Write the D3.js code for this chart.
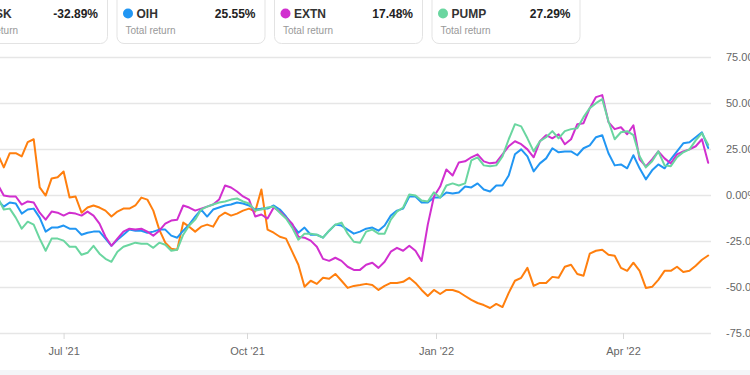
<!DOCTYPE html>
<html>
<head>
<meta charset="utf-8">
<script src="https://cdn.jsdelivr.net/npm/d3@7"></script>
<style>
	html, body { margin: 0; padding: 0; background: #fff; overflow: hidden; }
	svg { display: block; font-family: "Liberation Sans", Arial, sans-serif; }
</style>
</head>
<body>
<div id="chart"></div>
<script>
// sampling grid: every 3 days from 29 May 2021
var START = new Date(Date.UTC(2021, 4, 29));
var STEP_DAYS = 3;

var tickers = ["TUSK", "OIH", "EXTN", "PUMP"];
var totals = [-32.89, 25.55, 17.48, 27.29];
var colors = ["#ff7f0e", "#2196f3", "#d12fcf", "#6ad6a0"];

var yTicks = [75, 50, 25, 0, -25, -50, -75];
var xTickDates = ["2021-07-01", "2021-10-01", "2022-01-01", "2022-04-01"];

// total return, %
var tusk = [22.1,15.0,22.7,22.7,21.0,28.7,30.3,4.1,-0.3,9.0,9.6,12.8,-1.4,-0.8,-9.6,-6.8,-5.7,-6.8,-8.5,-11.7,
	-9.0,-7.4,-7.4,-5.7,-1.4,-2.5,-8.5,-18.8,-25.9,-29.2,-29.7,-15.0,-17.2,-19.9,-17.2,-16.1,-17.2,-11.7,-9.6,-11.2,
	-10.1,-8.5,-7.4,-9.0,3.0,-18.8,-20.5,-22.7,-23.7,-30.8,-37.9,-49.9,-46.6,-48.3,-45.0,-45.5,-42.9,-46.6,-50.5,-49.4,
	-48.9,-48.3,-48.9,-51.6,-49.4,-47.8,-47.8,-47.2,-45.0,-47.8,-51.6,-54.9,-51.6,-53.8,-51.6,-51.6,-52.7,-54.9,-57.0,-58.7,
	-59.8,-61.4,-59.2,-60.9,-53.2,-46.6,-45.0,-39.6,-49.4,-47.8,-47.8,-44.5,-45.0,-39.0,-37.9,-42.9,-43.9,-31.9,-30.3,-29.7,
	-32.5,-33.0,-39.6,-41.2,-36.8,-41.2,-50.5,-49.9,-46.1,-41.2,-41.2,-39.0,-41.8,-41.2,-38.4,-35.2,-32.89];
var oih = [-3.0,-6.3,-4.1,-4.6,-10.1,-7.9,-7.4,-12.3,-19.9,-17.7,-17.7,-16.6,-18.3,-18.3,-21.6,-20.5,-19.9,-19.9,-23.7,-27.6,
	-24.3,-21.6,-18.8,-19.4,-19.4,-20.5,-19.9,-18.8,-18.8,-22.1,-23.2,-19.4,-16.1,-11.7,-7.9,-11.7,-7.9,-6.8,-5.7,-5.2,
	-4.1,-4.6,-5.7,-7.9,-7.4,-7.4,-5.7,-7.9,-11.7,-16.1,-20.5,-17.7,-21.6,-21.6,-23.2,-19.4,-16.1,-16.6,-18.8,-21.0,
	-19.9,-18.3,-17.7,-19.4,-16.6,-11.2,-8.5,-7.4,-0.8,-0.8,-4.1,-4.1,-1.4,-1.4,1.4,0.8,1.4,4.6,4.1,6.3,
	3.0,1.9,5.2,5.2,10.6,22.1,24.8,21.0,12.8,17.2,19.9,25.4,23.2,23.7,23.7,21.6,25.4,27.0,31.4,32.5,
	22.7,16.1,16.6,14.5,21.6,14.5,8.5,13.4,16.6,14.5,19.4,23.7,28.1,28.7,31.4,34.1,25.55];
var extn = [5.7,-0.3,-0.8,-0.8,-5.2,-3.5,-4.1,-9.6,-13.4,-9.0,-9.6,-11.2,-9.6,-10.1,-11.2,-9.0,-11.2,-15.6,-22.7,-27.6,
	-23.7,-19.9,-18.3,-18.8,-18.3,-19.9,-22.1,-19.4,-15.6,-13.9,-13.4,-5.7,-6.8,-8.5,-7.4,-6.3,-5.2,-2.5,5.2,4.1,
	1.9,-0.8,-2.5,-11.7,-10.6,-12.8,-6.8,-9.0,-12.3,-15.6,-22.7,-23.2,-24.8,-28.1,-34.7,-35.8,-34.1,-35.8,-39.0,-40.7,
	-40.7,-37.9,-36.8,-39.6,-36.3,-30.8,-28.7,-30.3,-27.6,-30.3,-35.8,-16.1,-0.8,4.6,13.9,10.6,17.7,18.3,20.5,22.1,
	18.3,17.2,17.7,22.1,26.5,29.2,27.6,24.8,20.5,29.2,32.5,30.8,33.0,27.6,30.3,38.5,39.0,47.2,53.2,54.3,
	39.6,35.8,36.8,33.0,37.9,19.4,15.6,19.4,23.7,19.9,17.2,22.1,23.7,24.8,26.5,30.3,17.48];
var pump = [-1.4,-7.9,-7.4,-12.3,-18.3,-14.5,-16.1,-23.7,-30.3,-23.7,-23.7,-24.8,-28.1,-28.1,-32.5,-31.4,-27.6,-31.9,-34.7,-36.3,
	-30.8,-28.1,-27.0,-25.9,-26.5,-26.5,-28.7,-25.9,-27.0,-30.3,-29.7,-21.6,-16.6,-13.4,-7.9,-6.3,-5.2,-4.1,-3.5,-2.5,
	-1.9,-3.5,-4.6,-8.5,-7.9,-6.8,-6.3,-9.6,-12.8,-17.7,-24.3,-21.0,-21.0,-21.6,-23.2,-19.4,-16.1,-15.0,-21.0,-25.4,
	-25.9,-19.9,-18.8,-21.0,-21.0,-13.4,-9.0,-6.8,0.3,-0.3,-3.0,-3.5,1.4,-1.4,5.2,6.3,5.2,6.3,18.8,20.5,
	16.1,15.6,16.1,21.0,30.3,38.5,37.3,30.8,23.7,29.2,31.4,34.7,30.8,34.7,35.8,36.3,42.3,47.2,49.9,52.1,
	40.1,30.3,34.1,34.7,32.5,21.0,15.0,18.3,23.7,16.1,15.6,20.5,23.2,24.8,29.7,33.6,27.29];

var W = 750, H = 375;
var seriesValues = [tusk, oih, extn, pump];
var dates = tusk.map((v, i) => d3.utcDay.offset(START, i*STEP_DAYS));

var svg = d3.select("#chart").append("svg")
	.attr("width", W)
	.attr("height", H);

// trading-day axis: quarters are not evenly spaced on screen
var x = d3.scaleUtc()
	.domain(xTickDates.map(s => new Date(s + "T00:00:00Z")))
	.range([63.6, 247, 436, 623]);
var y = d3.scaleLinear()
	.domain([-75, 75])
	.range([333, 57]);

svg.append("rect")
	.attr("x", 0).attr("y", 370)
	.attr("width", W).attr("height", 5)
	.attr("fill", "#f4f5f8");

// grid + labels on the right
var yAxis = svg.append("g")
	.call(d3.axisRight(y)
		.tickValues(yTicks)
		.tickSize(711)
		.tickPadding(15)
		.tickFormat(d => d.toFixed(2) + "%"));
yAxis.select(".domain").remove();
yAxis.selectAll("line").attr("stroke", "#e6e6e6").attr("stroke-width", 1.5);
yAxis.selectAll("text")
	.attr("fill", "#666")
	.attr("font-size", 11)
	.attr("font-family", "Liberation Sans, Arial, sans-serif");

var xAxis = svg.append("g")
	.attr("transform", "translate(0," + y(-75) + ")")
	.call(d3.axisBottom(x)
		.tickValues(xTickDates.map(s => new Date(s + "T00:00:00Z")))
		.tickSize(6)
		.tickPadding(8)
		.tickFormat(d3.utcFormat("%b '%y")));
xAxis.select(".domain").remove();
xAxis.selectAll("line").attr("stroke", "#d8d8d8");
xAxis.selectAll("text")
	.attr("fill", "#666")
	.attr("font-size", 11)
	.attr("font-family", "Liberation Sans, Arial, sans-serif");

var line = d3.line()
	.x((d, i) => x(dates[i]))
	.y(d => y(d));

svg.append("g").selectAll("path")
	.data(seriesValues)
	.enter()
	.append("path")
	.attr("d", line)
	.attr("fill", "none")
	.attr("stroke", (d, i) => colors[i])
	.attr("stroke-width", 2)
	.attr("stroke-linejoin", "round")
	.attr("stroke-linecap", "round");

// legend cards along the top
var CARD_W = 148, CARD_H = 53, CARD_X0 = -41, CARD_GAP = 157.5;
var cards = svg.append("g").selectAll("g")
	.data(tickers)
	.enter()
	.append("g")
	.attr("transform", (d, i) => "translate(" + (CARD_X0 + i*CARD_GAP) + ",-10)");

cards.append("rect")
	.attr("x", 0.5).attr("y", 0.5)
	.attr("width", CARD_W).attr("height", CARD_H)
	.attr("rx", 7)
	.attr("fill", "#fff")
	.attr("stroke", "#e3e3e3");

cards.append("circle")
	.attr("cx", 11.5).attr("cy", 23.5)
	.attr("r", 5)
	.attr("fill", (d, i) => colors[i]);

cards.append("text")
	.attr("x", 20).attr("y", 27.5)
	.attr("font-size", 12).attr("font-weight", "bold")
	.attr("fill", "#333")
	.text(d => d);

cards.append("text")
	.attr("x", 139).attr("y", 27.5)
	.attr("text-anchor", "end")
	.attr("font-size", 12).attr("font-weight", "bold")
	.attr("fill", "#222")
	.text((d, i) => totals[i].toFixed(2) + "%");

cards.append("text")
	.attr("x", 9).attr("y", 44)
	.attr("font-size", 10)
	.attr("fill", "#999")
	.text("Total return");
</script>
</body>
</html>
